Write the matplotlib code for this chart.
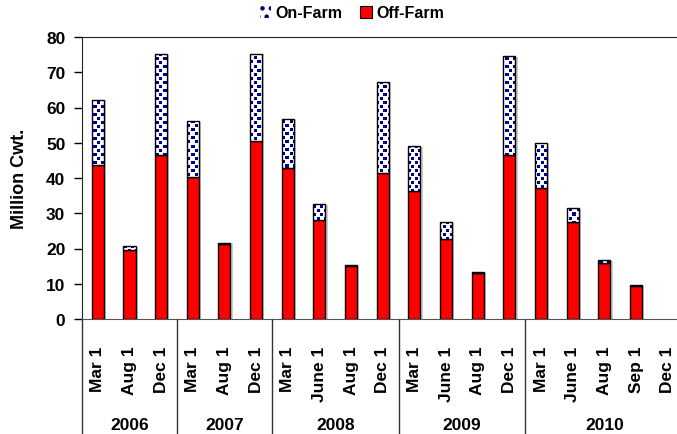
import matplotlib
matplotlib.use("Agg")
import matplotlib.pyplot as plt
from matplotlib.transforms import blended_transform_factory
from matplotlib.patches import Patch
import numpy as np

plt.rcParams['font.family'] = ['Liberation Sans', 'DejaVu Sans']
plt.rcParams['font.weight'] = 'bold'

months = ["Mar 1", "Aug 1", "Dec 1",
          "Mar 1", "Aug 1", "Dec 1",
          "Mar 1", "June 1", "Aug 1", "Dec 1",
          "Mar 1", "June 1", "Aug 1", "Dec 1",
          "Mar 1", "June 1", "Aug 1", "Sep 1", "Dec 1"]
years = ["2006", "2007", "2008", "2009", "2010"]
year_counts = [3, 3, 4, 4, 5]
off_farm = [43.8, 19.6, 46.6, 40.3, 21.3, 50.5, 42.7, 28.1, 15.0, 41.3,
            36.4, 22.7, 13.1, 46.6, 37.2, 27.5, 16.0, 9.5, 0.0]
total = [62.1, 20.6, 75.1, 56.2, 21.7, 75.3, 56.8, 32.6, 15.2, 67.1,
         49.1, 27.5, 13.3, 74.5, 49.9, 31.5, 16.7, 9.6, 0.0]
on_farm = [t - o for t, o in zip(total, off_farm)]

W, H = 677, 435
fig = plt.figure(figsize=(W / 100, H / 100), dpi=100)
ax_l, ax_b = 82, 320
ax_w, ax_h = 683.5 - 82, 320 - 38
ax = fig.add_axes([ax_l / W, 1 - ax_b / H, ax_w / W, ax_h / H])

x = np.arange(len(months))
bw = 0.38
vis = np.array(total) > 0
xv = x[vis]
off_v = np.array(off_farm)[vis]
on_v = np.array(on_farm)[vis]
tot_v = np.array(total)[vis]

ax.set_xlim(-0.5, len(months) - 0.5)
ax.set_ylim(0, 80)

# shadows
ax.bar(xv + 0.07, tot_v, bw, bottom=-0.25, color='#cccccc', linewidth=0, zorder=1)
ax.bar(xv, off_v, bw, color='#ff0000', edgecolor='black', linewidth=1.0, zorder=3)
on_bars = ax.bar(xv, on_v, bw, bottom=off_v, color='white', linewidth=0, zorder=3)

# dotted fill pattern (white with navy dots), pixel aligned
nh, nw = int(ax_h), int(np.ceil(ax_w))
pat = np.ones((nh, nw, 3))
navy = np.array([0, 0, 0.55])
rr, cc = np.mgrid[0:nh, 0:nw]
mask = ((rr % 8 < 3) & (cc % 7 < 3)) | (((rr + 4) % 8 < 3) & ((cc + 3) % 7 < 3))
pat[mask] = navy
for b in on_bars:
    im = ax.imshow(pat, extent=(-0.5, len(months) - 0.5, 0, 80), aspect='auto',
                   interpolation='nearest', zorder=3.5)
    im.set_clip_path(b)
ax.bar(xv, on_v, bw, bottom=off_v, fill=False, edgecolor='black',
       linewidth=1.0, zorder=4)
ax.set_xlim(-0.5, len(months) - 0.5)
ax.set_ylim(0, 80)

ax.set_yticks(np.arange(0, 81, 10))
ax.tick_params(axis='y', direction='out', length=6, width=1, labelsize=12.5, pad=6)
ax.set_xticks(x)
ax.set_xticklabels(months, rotation=90, fontsize=12.5, va='top')
ax.tick_params(axis='x', length=0, pad=19)
ax.set_ylabel("Million Cwt.", fontsize=13, fontweight='bold', labelpad=13)

for s in ['left', 'top']:
    ax.spines[s].set_color('#222222')
ax.spines['bottom'].set_color('#555555')
ax.spines['right'].set_visible(False)

# group separators
tr = blended_transform_factory(ax.transData, fig.transFigure)
bounds = np.cumsum([0] + year_counts) - 0.5
for b in bounds[:-1]:
    ax.plot([b, b], [0, 1 - 320 / H], transform=tr, color='#333333', lw=1.0, clip_on=False)
for i, yr in enumerate(years):
    c = (bounds[i] + bounds[i + 1]) / 2
    ax.text(c, 1 - 426 / H, yr, transform=tr, ha='center', va='center', fontsize=12.5,
            fontweight='bold')

plt.rcParams['hatch.linewidth'] = 2.0
handles = [Patch(facecolor='white', edgecolor='#000080', hatch='..', linewidth=0),
           Patch(facecolor='#ff0000', edgecolor='black', linewidth=0.8)]
leg = fig.legend(handles, ["On-Farm", "Off-Farm"], loc='center', ncol=2,
                 bbox_to_anchor=(352 / W, 1 - 14 / H), frameon=False, fontsize=11.5,
                 handlelength=0.7, handleheight=0.7, handletextpad=0.3, columnspacing=1.1)

fig.savefig("out.png", dpi=100)
